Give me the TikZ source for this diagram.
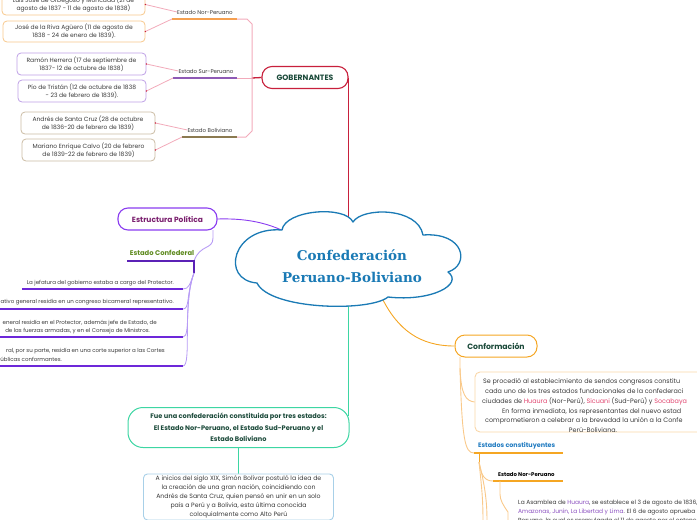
\documentclass[tikz,border=0pt]{standalone}
\usepackage{fontspec}
\setmainfont{Poppins}
\newfontfamily\titlefont{DejaVu Serif}
\definecolor{crim}{HTML}{C8203C}
\definecolor{pinkl}{HTML}{F2AABA}
\definecolor{npor}{HTML}{F5A050}
\definecolor{spur}{HTML}{8E5AB5}
\definecolor{bolb}{HTML}{8B7A50}
\definecolor{bnp}{HTML}{F8C88C}
\definecolor{bsp}{HTML}{BFA0E6}
\definecolor{bbo}{HTML}{CBBCA4}
\definecolor{dkgreen}{HTML}{1B4A3A}
\definecolor{txtgray}{HTML}{3A3A3A}
\definecolor{vio}{HTML}{8A3CF0}
\definecolor{magt}{HTML}{7A1E6E}
\definecolor{cgreen}{HTML}{5E8A1E}
\definecolor{dviol}{HTML}{5B21B6}
\definecolor{iviol}{HTML}{6D28D9}
\definecolor{lav}{HTML}{B79BF5}
\definecolor{mint}{HTML}{3DD6A3}
\definecolor{lblue}{HTML}{A8D0E8}
\definecolor{corange}{HTML}{F5A623}
\definecolor{lorange}{HTML}{F9C98A}
\definecolor{borange}{HTML}{F9D7A8}
\definecolor{eblue}{HTML}{1F7AC0}
\definecolor{pword}{HTML}{E0446E}
\definecolor{vword}{HTML}{8A4FBF}
\definecolor{cloudblue}{HTML}{1A7AB5}
\begin{document}
\begin{tikzpicture}[x=1pt,y=-1pt,
  gbox/.style={draw, rounded corners=4pt, line width=0.8pt, fill=white, align=center, inner sep=0pt,
     font=\fontsize{6}{8}\selectfont, text=txtgray},
  lab/.style={font=\fontsize{5.5}{6}\selectfont, text=txtgray, inner sep=0pt},
  mainbox/.style={draw, rounded corners=10pt, line width=1.1pt, fill=white, inner sep=0pt,
     font=\bfseries\fontsize{7.7}{9}\selectfont, text=dkgreen},
  itm/.style={font=\fontsize{5.5}{8.5}\selectfont, text=txtgray, inner sep=0pt, anchor=base east},
  ctx/.style={font=\fontsize{6.4}{8}\selectfont, text=txtgray, inner sep=0pt, anchor=base west},
  pinkln/.style={pinkl, line width=0.8pt},
]
\useasboundingbox (0,0) rectangle (697,520);
\coordinate (cc) at (349,257);

% ---------- GOBERNANTES ----------
\node[mainbox, draw=crim, minimum width=86pt, minimum height=22pt] (gob) at (305,77.5) {GOBERNANTES};
\draw[crim, line width=1.1pt] (gob.east) -- (gob.east |- cc);
\draw[crim, line width=1.3pt] (252,78) -- (gob.west);
\draw[pinkln, line width=1pt] (237,19) -- (247,19) -- (252,24) -- (252,131) -- (246,137) -- (237,137);
\draw[pinkln, line width=1pt] (237,78) -- (252,78);

\coordinate (npa) at (172,19); \coordinate (npb) at (237,19);
\coordinate (spa) at (173,78); \coordinate (spb) at (237,78);
\coordinate (boa) at (182,137); \coordinate (bob) at (237,137);
\draw[npor, line width=1.6pt] (npa) -- (npb);
\draw[spur, line width=1.6pt] (spa) -- (spb);
\draw[bolb, line width=1.6pt] (boa) -- (bob);
\node[lab] (lnp) at (205,12) {Estado Nor-Peruano};
\node[lab] (lsp) at (206,71) {Estado Sur-Peruano};
\node[lab] (lbo) at (210,130) {Estado Boliviano};

\node[gbox, draw=bnp, minimum width=143pt, minimum height=21pt] (b1) at (73.5,4.5) {Luis José de Orbegoso y Moncada (21 de\\agosto de 1837 - 11 de agosto de 1838)};
\node[gbox, draw=bnp, minimum width=142pt, minimum height=21pt] (b2) at (74,31.5) {José de la Riva Agüero (11 de agosto de\\1838 - 24 de enero de 1839).};
\node[gbox, draw=bsp, minimum width=129pt, minimum height=22pt] (b3) at (81.5,64) {Ramón Herrera (17 de septiembre de\\1837- 12 de octubre de 1838)};
\node[gbox, draw=bsp, minimum width=128pt, minimum height=22pt] (b4) at (82,91) {Pío de Tristán (12 de octubre de 1838\\- 23 de febrero de 1839).};
\node[gbox, draw=bbo, minimum width=134pt, minimum height=22pt] (b5) at (88,123) {Andrés de Santa Cruz (28 de octubre\\de 1836-20 de febrero de 1839)};
\node[gbox, draw=bbo, minimum width=133pt, minimum height=22pt] (b6) at (88.5,150) {Mariano Enrique Calvo (20 de febrero\\de 1839-22 de febrero de 1839)};

\draw[pinkln] (b1.east) -- (lnp.west);
\draw[pinkln] (b2.east) -- (npa);
\draw[pinkln] (b3.east) -- (lsp.west);
\draw[pinkln] (b4.east) -- (spa);
\draw[pinkln] (b5.east) -- (lbo.west);
\draw[pinkln] (b6.east) -- (boa);
\fill[crim] (b1.east) circle (0.8pt) (b2.east) circle (0.8pt) (b3.east) circle (0.8pt)
  (b4.east) circle (0.8pt) (b5.east) circle (0.8pt) (b6.east) circle (0.8pt);

% ---------- Estructura Politica ----------
\node[mainbox, draw=vio, text=magt, minimum width=99pt, minimum height=22pt,
  font=\bfseries\fontsize{7.5}{9}\selectfont] (est) at (167.5,219) {Estructura Política};
\draw[vio, line width=0.9pt] (est.east) .. controls (250,218) and (275,224) .. (300,240);
\node[inner sep=0pt, font=\bfseries\fontsize{6.8}{8}\selectfont, text=cgreen] (conf) at (162,253) {Estado Confederal};
\coordinate (cfa) at (127,261); \coordinate (cfb) at (194,261); \coordinate (cfd) at (194,273);
\draw[lav, line width=0.9pt] (213,230) -- (213,238) .. controls (213,250) and (200,244) .. (cfb);
\draw[dviol, line width=1.5pt] (cfa) -- (cfb) -- (cfd);

\coordinate (i1a) at (22,289);  \coordinate (i1b) at (183,289);
\coordinate (i2a) at (-1,309);  \coordinate (i2b) at (183,309);
\coordinate (i3a) at (-1,337);  \coordinate (i3b) at (183,337);
\coordinate (i4a) at (-1,366);  \coordinate (i4b) at (183,366);
\foreach \p in {i1,i2,i3,i4}{
  \draw[iviol, line width=1.2pt] (\p a) -- (\p b);
}
\draw[lav, line width=0.8pt] (cfd) .. controls (190,284) and (189,289) .. (i1b);
\draw[lav, line width=0.8pt] (cfd) .. controls (186,295) and (190,309) .. (i2b);
\draw[lav, line width=0.8pt] (cfd) .. controls (184,300) and (191,337) .. (i3b);
\draw[lav, line width=0.8pt] (cfd) .. controls (182,305) and (192,366) .. (i4b);

\node[itm] (t1) at (174,284) {La jefatura del gobierno estaba a cargo del Protector.};
\node[itm] (t2) at (174,303) {ativo general residía en un congreso bicameral representativo.};
\node[itm] (t3) at (157,324) {eneral residía en el Protector, además jefe de Estado, de};
\node[itm] (t4) at (150,332.5) {de las fuerzas armadas, y en el Consejo de Ministros.};
\node[itm] (t5) at (165,352.5) {ral, por su parte, residía en una corte superior a las Cortes};
\node[itm] (t6) at (62,361) {úblicas conformantes.};

% ---------- bottom mint ----------
\node[draw=mint, line width=1pt, rounded corners=15pt, fill=white, minimum width=221pt, minimum height=40pt,
  inner sep=0pt, align=center, text=dkgreen, font=\bfseries\fontsize{6.6}{11.5}\selectfont] (fue) at (238.5,427.5)
  {Fue una confederación constituida por tres estados:\\El Estado Nor-Peruano, el Estado Sud-Peruano y el\\Estado Boliviano};
\coordinate (tend) at (348,416);
\draw[mint, line width=1pt] (348,257) -- (tend);
\coordinate (tb) at (238.5,473.5);
\draw[mint, line width=1pt] (fue.south) -- (tb);
\node[draw=lblue, line width=0.9pt, rounded corners=4pt, fill=white, minimum width=190pt, minimum height=46pt,
  inner sep=0pt, align=center, text=txtgray, font=\fontsize{6.2}{9.1}\selectfont, anchor=north] (ini) at (tb)
  {A inicios del siglo XIX, Simón Bolívar postuló la idea de\\la creación de una gran nación, coincidiendo con\\Andrés de Santa Cruz, quien pensó en unir en un solo\\país a Perú y a Bolivia, esta última conocida\\coloquialmente como Alto Perú};

% ---------- Conformacion ----------
\node[mainbox, draw=corange, line width=1pt, minimum width=82pt, minimum height=22pt] (cnf) at (496,346) {Conformación};
\draw[corange, line width=0.9pt] (382,298) .. controls (398,330) and (420,346) .. (cnf.west);
\coordinate (cn1) at (460,357); \coordinate (cn2) at (460,368);
\node[draw=borange, line width=0.9pt, rounded corners=5pt, minimum width=236pt, minimum height=60pt, inner sep=0pt] (ctb) at (593,402) {};
\draw[lorange, line width=0.9pt] (cn1) -- (cn2) .. controls (461,395) and (466,401) .. (ctb.west);
\node[ctx] (c1) at (483,383) {Se procedió al establecimiento de sendos congresos constitu};
\node[ctx] (c2) at (485,393) {cada uno de los tres estados fundacionales de la confederaci};
\node[ctx] (c3) at (482,403) {ciudades de \textcolor{pword}{Huaura} (Nor-Perú), \textcolor{pword}{Sicuani} (Sud-Perú) y \textcolor{pword}{Socabaya}};
\node[ctx] (c4) at (502,413) {En forma inmediata, los representantes del nuevo estad};
\node[ctx] (c5) at (485,422.5) {comprometieron a celebrar a la brevedad la unión a la Confe};
\node[ctx, anchor=base] (c6) at (593,432) {Perú-Boliviana.};

\coordinate (ea) at (474,453); \coordinate (eb) at (563,453);
\draw[lorange, line width=0.9pt] (cn2) .. controls (462,440) and (465,453) .. (ea);
\draw[corange, line width=1.3pt] (ea) -- (eb);
\node[inner sep=0pt, anchor=base west, font=\bfseries\fontsize{6.4}{8}\selectfont, text=eblue] (ec) at (478,447.5) {Estados constituyentes};
\coordinate (ed) at (479,462);
\draw[corange, line width=1pt] (479,453) -- (ed);
\coordinate (na) at (493,481); \coordinate (nb) at (563,481);
\draw[lorange, line width=0.9pt] (ed) .. controls (481,476) and (485,481) .. (na);
\draw[lorange, line width=0.9pt] (ed) .. controls (482,490) and (483,500) .. (483,522);
\draw[lorange, line width=0.9pt] (ed) .. controls (486,490) and (487,505) .. (487,522);
\draw[corange, line width=1.3pt] (na) -- (nb);
\node[inner sep=0pt, anchor=base west, font=\bfseries\fontsize{5.4}{7}\selectfont, text=black] (nl) at (498,476) {Estado Nor-Peruano};
\draw[lorange, line width=0.9pt] (500,481) -- (500,494) .. controls (500,500) and (503,505) .. (508,512) -- (508,522);
\node[ctx, font=\fontsize{5.9}{8}\selectfont] (r1) at (518,504) {La Asamblea de \textcolor{vword}{Huaura}, se establece el 3 de agosto de 1836,};
\node[ctx, font=\fontsize{5.9}{8}\selectfont] (r2) at (518,513) {\textcolor{vword}{Amazonas, Junín, La Libertad y Lima}. El 6 de agosto aprueba};
\node[ctx, font=\fontsize{5.9}{8}\selectfont] (r3) at (518,522) {Peruano, la cual es promulgada el 11 de agosto por el entonces};

% ---------- cloud ----------
\draw[cloudblue, line width=1.3pt, fill=white, line join=round]
  (282,230) .. controls (285,210) and (345,205) .. (353,222)
  .. controls (362,207) and (418,207) .. (423,235)
  .. controls (465,232) and (470,265) .. (448,272)
  .. controls (464,284) and (432,302) .. (388,297)
  .. controls (370,312) and (270,310) .. (257,283)
  .. controls (220,280) and (232,226) .. (282,230) -- cycle;
\node[align=center, inner sep=0pt, text=cloudblue, font=\titlefont\bfseries\fontsize{13.5}{22}\selectfont] (title) at (352,266)
  {Confederación\\Peruano-Boliviano};
\end{tikzpicture}
\end{document}
